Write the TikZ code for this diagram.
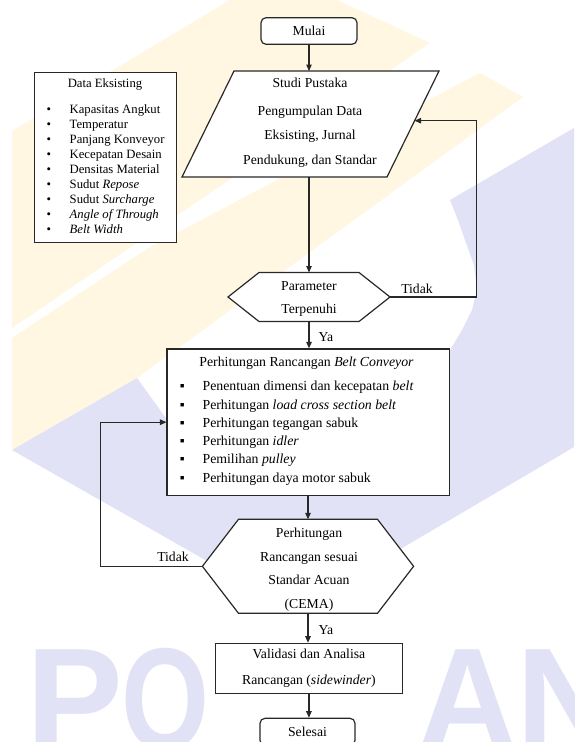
\documentclass[tikz,border=0pt]{standalone}
\usepackage{fontspec}
\setmainfont{Liberation Serif}
\newfontfamily\wmfont{Liberation Sans}
\usetikzlibrary{arrows.meta,calc}
\definecolor{lav}{RGB}{226,226,246}
\definecolor{ylw}{RGB}{255,247,226}
\definecolor{ln}{RGB}{40,40,40}
\newcommand\mainsz{\fontsize{13.7}{24.5}\selectfont}
\newcommand\paramsz{\fontsize{13.7}{23.3}\selectfont}
\newcommand\hexsz{\fontsize{13.7}{23.7}\selectfont}
\newcommand\valsz{\fontsize{13.7}{25.7}\selectfont}
\newcommand\datasz{\fontsize{12.7}{15.1}\selectfont}
\newcommand\listsz{\fontsize{13.8}{18.3}\selectfont}
\newcommand\wmsz{\fontsize{145}{145}\selectfont\wmfont\bfseries}
\begin{document}
\begin{tikzpicture}[x=1pt,y=-1pt,
  shp/.style={draw=ln, line width=1.2pt, fill=white, line join=miter},
  box/.style={shp, inner sep=0pt, align=center, font=\mainsz},
  txt/.style={inner sep=0pt, align=center, font=\mainsz},
  conn/.style={draw=ln, line width=1.2pt},
  arr/.style={conn, -{Triangle[length=6.5pt,width=5.5pt]}},
  wm/.style={text=lav, inner sep=0pt, anchor=base west, font=\wmsz},
]
\useasboundingbox (0,0) rectangle (574,742);
\clip (0,0) rectangle (574,742);
\fill[white] (0,0) rectangle (574,742);
% ---- watermark ----
\fill[ylw] (12,131) -- (230,0) -- (337,0) -- (430,43) -- (12,328) -- cycle;
\fill[ylw] (12,338) -- (150,247) -- (480,73) -- (523,97) -- (137,378) -- (12,450) -- cycle;
\fill[lav] (12,450) -- (137,378) -- (168,421) -- (250,440) -- (440,356) -- (450,350)
  -- (462,330) -- (472,310) -- (477,290) -- (474,265) -- (465,240) -- (458,220)
  -- (450,200) -- (574,128) -- (574,447) -- (295,611) -- cycle;
\node[wm] (wmP) at (26,749) {P};
\node[wm] (wmO) at (121,749) {\scalebox{0.78}[1]{O}};
\node[wm] (wmA) at (417,749) {\scalebox{0.96}[1]{A}};
\node[wm] (wmN) at (516,749) {N};
% ---- Mulai ----
\node[box, rounded corners=5pt, minimum width=96, minimum height=26.6] (mulai) at (309,31) {Mulai};
% ---- Studi Pustaka (parallelogram) ----
\coordinate (pa) at (234,71);
\coordinate (pb) at (439,71);
\coordinate (pc) at (387,177);
\coordinate (pd) at (182,177);
\draw[shp] (pa) -- (pb) -- (pc) -- (pd) -- cycle;
\node[txt] (studi) at (310,122.5) {Studi Pustaka\\[3.5pt]Pengumpulan Data\\Eksisting, Jurnal\\Pendukung, dan Standar};
\coordinate (pbot) at (309,177);
\coordinate (pin) at (414.6,120.7);
\coordinate (loopB) at (476.7,120.7);
% ---- Data Eksisting ----
\node[shp, inner sep=0pt, minimum width=142, minimum height=170, anchor=north west] (data) at (34,72) {};
\node[txt, font=\datasz] (dtitle) at (105,84) {Data Eksisting};
\node[inner sep=0pt, font=\datasz, anchor=base west] (dlist) at (43.7,113)
 {\begin{tabular}[t]{@{}l@{\hspace{15.8pt}}l@{}}
 \makebox[10pt]{•} & Kapasitas Angkut\\
 \makebox[10pt]{•} & Temperatur\\
 \makebox[10pt]{•} & Panjang Konveyor\\
 \makebox[10pt]{•} & Kecepatan Desain\\
 \makebox[10pt]{•} & Densitas Material\\
 \makebox[10pt]{•} & Sudut \textit{Repose}\\
 \makebox[10pt]{•} & Sudut \textit{Surcharge}\\
 \makebox[10pt]{•} & \textit{Angle of Through}\\
 \makebox[10pt]{•} & \textit{Belt Width}
 \end{tabular}};
% ---- Parameter hexagon ----
\coordinate (h1) at (309,297);
\draw[shp] ($(h1)+(-50,-24.5)$) -- ($(h1)+(50,-24.5)$) -- ($(h1)+(81,0)$) -- ($(h1)+(50,24.5)$) -- ($(h1)+(-50,24.5)$) -- ($(h1)+(-81,0)$) -- cycle;
\coordinate (h1t) at ($(h1)+(0,-24.5)$);
\coordinate (h1b) at ($(h1)+(0,24.5)$);
\coordinate (h1r) at ($(h1)+(81,0)$);
\node[txt, font=\paramsz] (param) at (309,299.2) {Parameter\\Terpenuhi};
% ---- Perhitungan box ----
\node[shp, inner sep=0pt, minimum width=282.5, minimum height=146.5] (hitung) at (308.3,422.2) {};
\node[txt, font=\listsz] (htitle) at (306.5,362.7) {Perhitungan Rancangan \textit{Belt Conveyor}};
\node[inner sep=0pt, font=\listsz, anchor=base west] (hlist) at (177,390.7)
 {\begin{tabular}[t]{@{}l@{\hspace{15.4pt}}l@{}}
 \makebox[10pt]{▪} & Penentuan dimensi dan kecepatan \textit{belt}\\
 \makebox[10pt]{▪} & Perhitungan \textit{load cross section belt}\\
 \makebox[10pt]{▪} & Perhitungan tegangan sabuk\\
 \makebox[10pt]{▪} & Perhitungan \textit{idler}\\
 \makebox[10pt]{▪} & Pemilihan \textit{pulley}\\
 \makebox[10pt]{▪} & Perhitungan daya motor sabuk
 \end{tabular}};
% ---- CEMA hexagon ----
\coordinate (h2) at (308,566.3);
\draw[shp] ($(h2)+(-69.5,-47)$) -- ($(h2)+(69.5,-47)$) -- ($(h2)+(105.6,0)$) -- ($(h2)+(69.5,47)$) -- ($(h2)+(-69.5,47)$) -- ($(h2)+(-105.6,0)$) -- cycle;
\coordinate (h2t) at ($(h2)+(0,-47)$);
\coordinate (h2b) at ($(h2)+(0,47)$);
\coordinate (h2l) at ($(h2)+(-105.6,0)$);
\coordinate (loopC) at (100.5,422.2);
\node[txt, font=\hexsz] (cema) at (309,569.7) {Perhitungan\\Rancangan sesuai\\Standar Acuan\\(CEMA)};
% ---- Validasi ----
\node[box, font=\valsz, minimum width=187.3, minimum height=50] (valid) at (308.9,668.3) {Validasi dan Analisa\\Rancangan (\textit{sidewinder})};
% ---- Selesai ----
\node[box, rounded corners=5pt, minimum width=95, minimum height=27] (selesai) at (307.5,731.8) {Selesai};
% ---- connectors ----
\draw[arr] (mulai.south) -- (mulai.south |- pa);
\draw[arr] (pbot) -- (h1t);
\draw[arr] (h1r) -| (loopB) -- (pin);
\node[txt] (tidak1) at (417,289) {Tidak};
\draw[arr] (h1b) -- (h1b |- hitung.north);
\node[txt] (ya1) at (326,337) {Ya};
\draw[arr] (h2t |- hitung.south) -- (h2t);
\draw[arr] (h2l) -| (loopC) -- (hitung.west);
\node[txt] (tidak2) at (173,557) {Tidak};
\draw[arr] (h2b) -- (h2b |- valid.north);
\node[txt] (ya2) at (326,630) {Ya};
\draw[arr] (valid.south) -- (valid.south |- selesai.north);
\end{tikzpicture}
\end{document}
